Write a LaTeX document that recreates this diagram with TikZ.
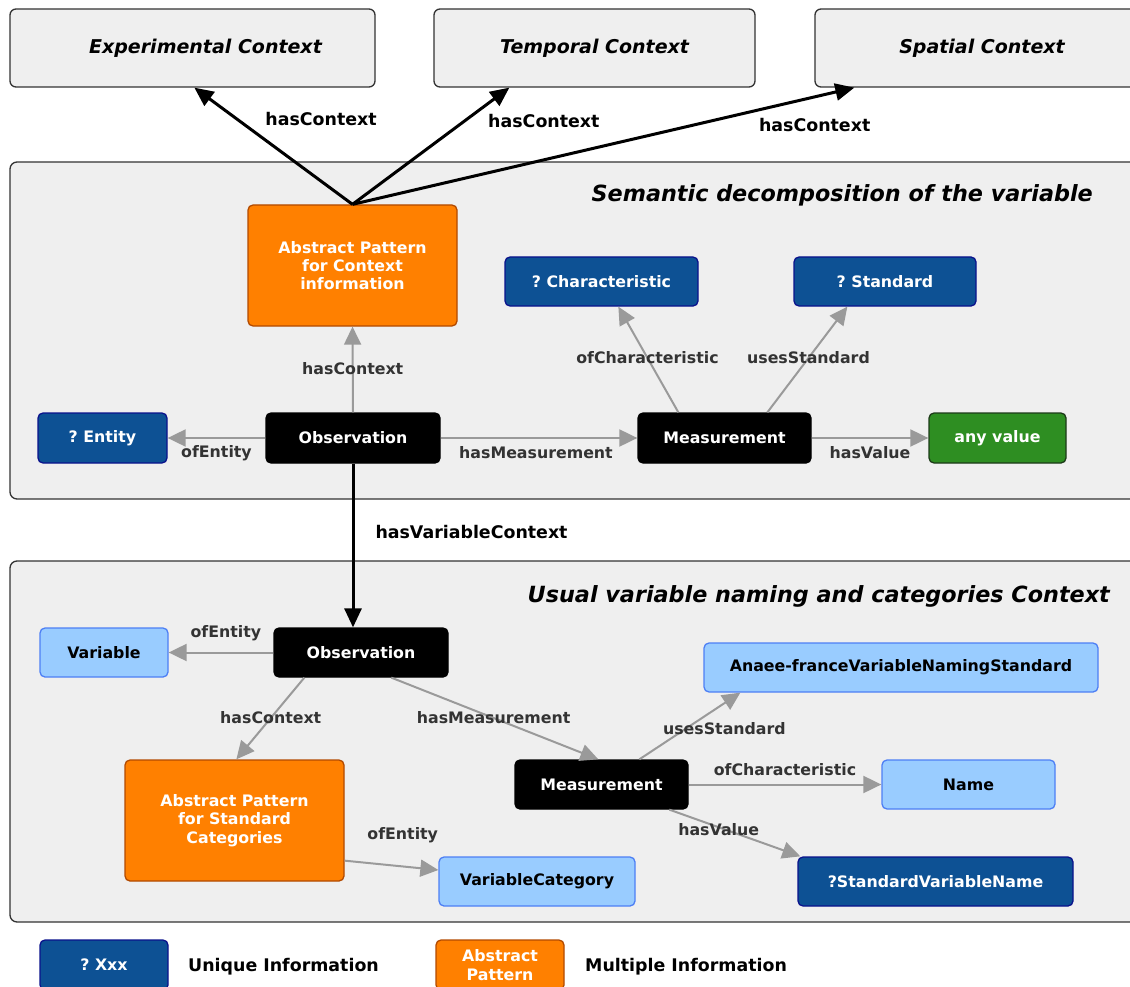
\documentclass[tikz,border=0pt]{standalone}
\usepackage{fontspec}
\setmainfont{DejaVu Sans}
\usetikzlibrary{arrows.meta,calc}
\definecolor{secfill}{HTML}{EFEFEF}
\definecolor{secdraw}{HTML}{333333}
\definecolor{dkfill}{HTML}{0D5194}
\definecolor{dkdraw}{HTML}{0A128C}
\definecolor{ltfill}{HTML}{99CCFF}
\definecolor{ltdraw}{HTML}{4D7FF5}
\definecolor{orfill}{HTML}{FF8000}
\definecolor{ordraw}{HTML}{B24A00}
\definecolor{grfill}{HTML}{2E8E22}
\definecolor{grdraw}{HTML}{1C3A18}
\definecolor{edgegray}{HTML}{9A9A9A}
\definecolor{lblgray}{HTML}{333333}
\frenchspacing
\begin{document}
\begin{tikzpicture}[x=1pt,y=-1pt,
  base/.style={rounded corners=5pt, line width=1.3pt, align=center, inner sep=0pt,
    font=\fontsize{15.8}{18.3}\selectfont\bfseries},
  dk/.style={base, fill=dkfill, draw=dkdraw, text=white},
  lt/.style={base, fill=ltfill, draw=ltdraw, text=black},
  org/.style={base, fill=orfill, draw=ordraw, text=white},
  blk/.style={base, fill=black, draw=black, text=white},
  grn/.style={base, fill=grfill, draw=grdraw, text=white},
  ctx/.style={draw=secdraw, fill=secfill, rounded corners=6pt, line width=1.3pt,
    minimum height=78pt, inner sep=0pt, font=\fontsize{19}{22}\selectfont\bfseries\itshape},
  section/.style={draw=secdraw, fill=secfill, rounded corners=7pt, line width=1.3pt, inner sep=0pt},
  sectitle/.style={inner sep=0pt, anchor=east, font=\fontsize{22.3}{26}\selectfont\bfseries\itshape},
  garr/.style={draw=edgegray, line width=2pt, -{Triangle[length=18pt,width=17pt]}},
  barr/.style={draw=black, line width=3pt, -{Triangle[length=19pt,width=17pt]}},
  lbl/.style={inner sep=0pt, text=lblgray, font=\fontsize{15.8}{18}\selectfont\bfseries},
  blbl/.style={inner sep=0pt, text=black, font=\fontsize{17.4}{20}\selectfont\bfseries},
  legtxt/.style={inner sep=0pt, anchor=west, text=black, font=\fontsize{17.4}{20}\selectfont\bfseries}
]
\useasboundingbox (0,0) rectangle (1130,987);

% context boxes
\node[ctx, minimum width=365pt] (exp) at (192.5,48) {\hspace*{26pt}Experimental Context};
\node[ctx, minimum width=321pt] (tmp) at (594.5,48) {Temporal Context};
\node[ctx, minimum width=334pt] (spa) at (982,48) {Spatial Context};

% sections
\node[section, minimum width=1140pt, minimum height=337pt] (sec1) at (580,330.5) {};
\node[section, minimum width=1140pt, minimum height=361pt] (sec2) at (580,741.5) {};
\node[sectitle] (t1) at (1093,195) {Semantic decomposition of the variable};
\node[sectitle] (t2) at (1110,596) {Usual variable naming and categories Context};

% section 1 nodes
\node[org, minimum width=209pt, minimum height=121pt] (ap1) at (352.5,265.5) {Abstract Pattern\\for Context\\information};
\node[dk, minimum width=193pt, minimum height=49pt] (char) at (601.5,281.5) {? Characteristic};
\node[dk, minimum width=182pt, minimum height=49pt] (std) at (885,281.5) {? Standard};
\node[dk, minimum width=129pt, minimum height=50pt] (ent) at (102.5,438) {? Entity};
\node[blk, minimum width=174pt, minimum height=50pt] (obs1) at (353,438) {Observation};
\node[blk, minimum width=173pt, minimum height=50pt] (meas1) at (724.5,438) {Measurement};
\node[grn, minimum width=137pt, minimum height=50pt] (anyv) at (997.5,438) {any value};

% section 2 nodes
\node[lt, minimum width=128pt, minimum height=49pt] (var) at (104,652.5) {Variable};
\node[blk, minimum width=174pt, minimum height=49pt] (obs2) at (361,652.5) {Observation};
\node[lt, minimum width=394pt, minimum height=49pt] (anaee) at (901,667.5) {Anaee-franceVariableNamingStandard};
\node[org, minimum width=219pt, minimum height=121pt] (ap2) at (234.5,820.5) {Abstract Pattern\\for Standard\\Categories};
\node[blk, minimum width=173pt, minimum height=49pt] (meas2) at (601.5,784.5) {Measurement};
\node[lt, minimum width=173pt, minimum height=49pt] (name) at (968.5,784.5) {Name};
\node[lt, minimum width=196pt, minimum height=49pt] (vcat) at (537,881.5) {VariableCategory};
\node[dk, minimum width=275pt, minimum height=49pt] (svn) at (935.5,881.5) {?StandardVariableName};

% legend
\node[dk, minimum width=128pt, minimum height=50pt] (lg1) at (104,965) {? Xxx};
\node[legtxt] (lt1) at (188,966.5) {Unique Information};
\node[org, minimum width=128pt, minimum height=50pt] (lg2) at (500,965) {Abstract\\Pattern};
\node[legtxt] (lt2) at (585,966.5) {Multiple Information};

% black context arrows
\draw[barr] (ap1.north) -- ([xshift=185pt]exp.south west) node[blbl, pos=.73, xshift=84pt] {hasContext};
\draw[barr] (ap1.north) -- ([xshift=76pt]tmp.south west) node[blbl, pos=.71, xshift=80pt] {hasContext};
\draw[barr] (ap1.north) -- ([xshift=40pt]spa.south west) node[blbl, pos=.917, xshift=2pt, yshift=-28pt] {hasContext};
\draw[barr] (obs1.south) -- (obs1.south |- obs2.north) node[blbl, pos=.415, anchor=west, xshift=21pt] {hasVariableContext};

% section 1 edges
\draw[garr] (obs1.north) -- (ap1.south) node[lbl, pos=.51] {hasContext};
\draw[garr] (obs1.west) -- (ent.east) node[lbl, pos=.5, yshift=-15pt] {ofEntity};
\draw[garr] (obs1.east) -- (meas1.west) node[lbl, pos=.5, xshift=-3pt, yshift=-15pt] {hasMeasurement};
\draw[garr] (meas1.east) -- (anyv.west) node[lbl, pos=.5, yshift=-15pt] {hasValue};
\draw[garr] ([xshift=41pt]meas1.north west) -- ([xshift=114pt]char.south west) node[lbl, pos=.514] {ofCharacteristic};
\draw[garr] ([xshift=130pt]meas1.north west) -- ([xshift=54pt]std.south west) node[lbl, pos=.514] {usesStandard};

% section 2 edges
\draw[garr] (obs2.west) -- (var.east) node[lbl, pos=.453, yshift=19pt] {ofEntity};
\draw[garr] ([xshift=31pt]obs2.south west) -- ([xshift=112pt]ap2.north west) node[lbl, pos=.494] {hasContext};
\draw[garr] ([xshift=118pt]obs2.south west) -- ([xshift=84pt]meas2.north west) node[lbl, pos=.494] {hasMeasurement};
\draw[garr] ([xshift=125pt]meas2.north west) -- ([xshift=37pt]anaee.south west) node[lbl, pos=.456, xshift=39pt] {usesStandard};
\draw[garr] (meas2.east) -- (name.west) node[lbl, pos=.5, yshift=15pt] {ofCharacteristic};
\draw[garr] ([xshift=155pt]meas2.south west) -- ([xshift=3pt]svn.north west) node[lbl, pos=.43, xshift=-7pt] {hasValue};
\draw[garr] ([yshift=21pt]ap2.south east) -- ([yshift=11.5pt]vcat.west) node[lbl, pos=.62, yshift=31pt] {ofEntity};
\end{tikzpicture}
\end{document}
